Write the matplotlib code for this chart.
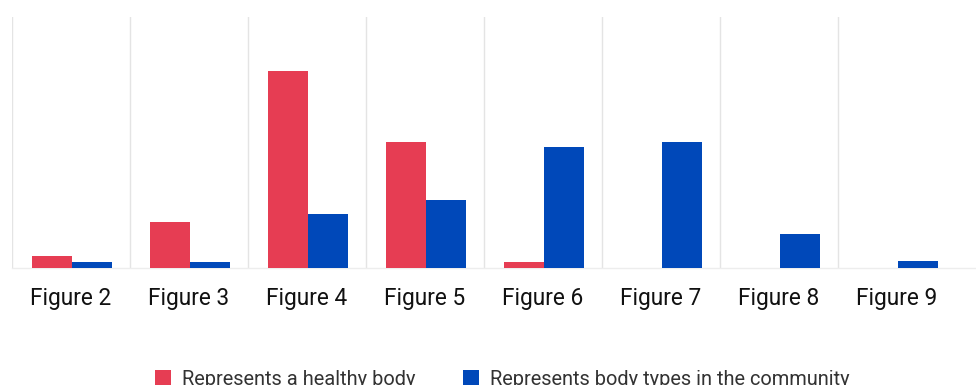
import matplotlib
matplotlib.use("Agg")
import matplotlib.pyplot as plt
import numpy as np

# Survey tallies per figure shown to respondents
categories = ["Figure 2", "Figure 3", "Figure 4", "Figure 5",
              "Figure 6", "Figure 7", "Figure 8", "Figure 9"]
healthy_body = [2, 7.7, 32.8, 21, 1, 0, 0, 0]
community_types = [1, 1, 9, 11.3, 20.2, 21, 5.7, 1.2]
series_labels = ["Represents a healthy body",
                 "Represents body types in the community"]

RED = "#E63D53"
BLUE = "#0048B9"
GRID = "#E4E4E4"

plt.rcParams["font.family"] = ["Roboto", "DejaVu Sans"]

W, H = 976, 385
fig = plt.figure(figsize=(W / 100, H / 100), dpi=100)

band_px = 118.0
left_px, top_px, base_px = 12, 17, 268
ax = fig.add_axes([left_px / W, (H - base_px) / H,
                   (W - left_px) / W, (base_px - top_px) / H])

x = np.arange(len(categories))
bw = 40 / band_px
ax.bar(x - bw + 1 / band_px, healthy_body, width=bw, align="edge",
       color=RED, label=series_labels[0], zorder=3)
ax.bar(x + 1 / band_px, community_types, width=bw, align="edge",
       color=BLUE, label=series_labels[1], zorder=3)

ax.set_xlim(-0.5, -0.5 + (W - left_px) / band_px)
ax.set_ylim(0, (base_px - top_px) / 6.0)

# vertical separators at the left edge of each category band
for edge in x - 0.5:
    ax.axvline(edge, color=GRID, lw=1.0, zorder=1)

for side in ["top", "right", "left"]:
    ax.spines[side].set_visible(False)
ax.spines["bottom"].set_color("#EDEDED")
ax.spines["bottom"].set_linewidth(1.0)

ax.set_yticks([])
ax.set_xticks(x)
ax.set_xticklabels(categories, fontsize=16.3, color="#111111")
ax.tick_params(axis="x", length=0, pad=13.5)

fig.legend(loc="lower left", bbox_to_anchor=(155 / W, -0.010),
           ncol=2, frameon=False, fontsize=14.4,
           handlelength=0.8, handleheight=0.8, handletextpad=0.55,
           columnspacing=2.35, borderaxespad=0, borderpad=0,
           labelcolor="#333333")

fig.savefig("out.png", dpi=100)
